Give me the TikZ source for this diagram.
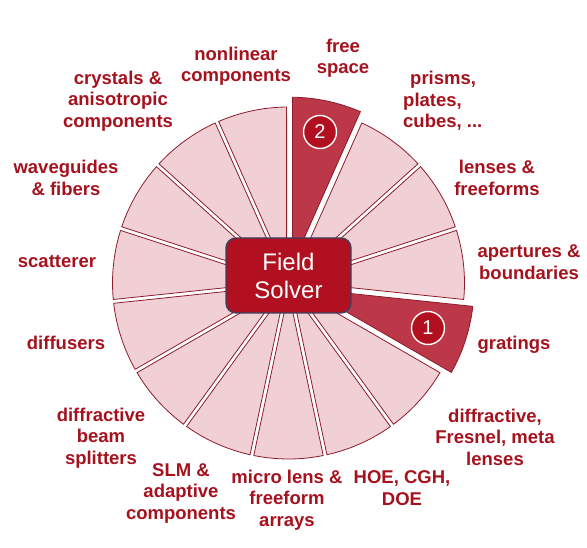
\documentclass[tikz,border=0pt]{standalone}
\usepackage{fontspec}
\setmainfont{Liberation Sans}
\usetikzlibrary{calc}
\definecolor{segpink}{RGB}{240,208,213}
\definecolor{segdark}{RGB}{188,56,72}
\definecolor{segline}{RGB}{140,28,44}
\definecolor{boxred}{RGB}{176,16,32}
\definecolor{boxline}{RGB}{62,66,92}
\definecolor{txtred}{RGB}{165,18,30}
\tikzset{
  wedge/.style={fill=segpink, draw=segline, line width=0.8pt},
  hiwedge/.style={fill=segdark, draw=segline, line width=0.8pt},
  lbl/.style={text=txtred, font=\bfseries\fontsize{18.5}{21.5}\selectfont, align=center, inner sep=0pt},
  numcirc/.style={circle, fill=boxred, draw=white, line width=1.4pt, minimum size=33pt, inner sep=0pt, text=white, font=\fontsize{20}{20}\selectfont},
  solver/.style={rounded corners=10pt, fill=boxred, draw=boxline, line width=1.4pt, minimum width=125pt, minimum height=75pt, text=white, align=center, font=\fontsize{24}{28}\selectfont}
}
\begin{document}
\begin{tikzpicture}[x=1pt,y=1pt]
\useasboundingbox (0,0) rectangle (587,548);
\coordinate (C) at (288.5,265);
\def\R{176}
\def\dd{0.62}
% wedges: k from 0..14, spanning 90-24(k+1) .. 90-24k
\foreach \k in {1,2,3,5,6,7,8,9,10,11,12,13,14}{
  \pgfmathsetmacro{\aA}{90-24*(\k+1)}
  \pgfmathsetmacro{\aB}{90-24*\k}
  \pgfmathsetmacro{\aM}{90-24*\k-12}
  \path[wedge] ($(C)+(\aM:9)$) -- ($(C)+(\aA+\dd:\R)$) arc[start angle=\aA+\dd, end angle=\aB-\dd, radius=\R] -- cycle;
}
% highlighted (exploded) wedges
\foreach \k in {0,4}{
  \pgfmathsetmacro{\aA}{90-24*(\k+1)}
  \pgfmathsetmacro{\aB}{90-24*\k}
  \pgfmathsetmacro{\aM}{90-24*\k-12}
  \path[hiwedge] ($(C)+(\aM:19)$) -- ($(C)+(\aM:10)+(\aA+\dd:\R)$) arc[start angle=\aA+\dd, end angle=\aB-\dd, radius=\R] -- cycle;
}
\node[solver] (fs) at (288.5,272.5) {Field\\Solver};
\node[numcirc] (n2) at (320,416) {2};
\node[numcirc] (n1) at (428,220) {1};
% labels
\node[lbl] (l0) at (343,490) {free\\space};
\node[lbl, align=left, anchor=west] (l1) at (403,447) {\hspace{7pt}prisms,\\plates,\\cubes, ...};
\node[lbl] (l2) at (497,370) {lenses \&\\freeforms};
\node[lbl] (l3) at (529,286) {apertures \&\\boundaries};
\node[lbl] (l4) at (514,203) {gratings};
\node[lbl] (l5) at (495,111) {diffractive,\\Fresnel, meta\\lenses};
\node[lbl] (l6) at (402,60) {HOE, CGH,\\DOE};
\node[lbl] (l7) at (287,48) {micro lens \&\\freeform\\arrays};
\node[lbl] (l8) at (181,55) {SLM \&\\adaptive\\components};
\node[lbl] (l9) at (101,110) {diffractive\\beam\\splitters};
\node[lbl] (l10) at (66,205) {diffusers};
\node[lbl] (l11) at (57,286) {scatterer};
\node[lbl] (l12) at (66,370) {waveguides\\\& fibers};
\node[lbl] (l13) at (118,447) {crystals \&\\anisotropic\\components};
\node[lbl] (l14) at (236,482) {nonlinear\\components};
\end{tikzpicture}
\end{document}
